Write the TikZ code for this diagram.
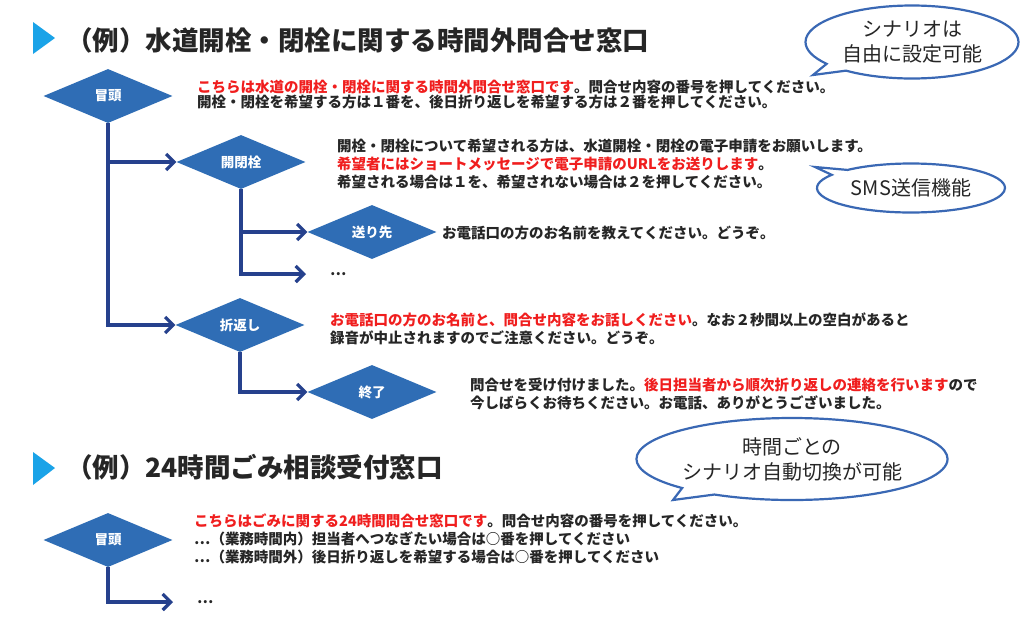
\documentclass[tikz,border=0pt]{standalone}
\usepackage{fontspec}
\setmainfont{Noto Sans CJK JP}
\usetikzlibrary{shapes.geometric,shapes.callouts,arrows.meta}
\definecolor{stepblue}{HTML}{2F6DB5}
\definecolor{flowblue}{HTML}{26418D}
\definecolor{markcyan}{HTML}{1AA3E8}
\definecolor{msgred}{HTML}{F01E1E}
\definecolor{bubbleline}{HTML}{3A68B4}
\definecolor{bodytext}{HTML}{262626}
\newcommand{\hl}[1]{\textcolor{msgred}{#1}}

\begin{document}
\begin{tikzpicture}[x=1pt,y=-1pt,
    stepbox/.style={diamond, fill=stepblue, minimum width=129pt, minimum height=54pt,
      inner sep=0pt, text=white, font=\fontsize{13.5}{14}\selectfont\bfseries},
    flow/.style={draw=flowblue, line width=3.2pt, -{Straight Barb[length=8pt,width=16pt]}},
    msg/.style={anchor=west, align=left, inner sep=0pt, text=bodytext,
      font=\fontsize{14.5}{#1}\selectfont\bfseries},
    msg/.default=17,
    heading/.style={anchor=west, inner sep=0pt, text=bodytext, font=\fontsize{26.5}{30}\selectfont\bfseries},
    bubble/.style={ellipse callout, draw=bubbleline, line width=2.2pt, fill=white,
      inner sep=0pt, align=center, text=bodytext, font=\fontsize{20}{25}\selectfont},
    dotsnode/.style={anchor=west, inner xsep=24pt, inner ysep=0pt, text=bodytext,
      font=\fontsize{14.5}{17}\selectfont\bfseries}]

  \path[use as bounding box, fill=white] (0,0) rectangle (1023,627);

  % first example
  \fill[markcyan] (33,22) -- (55,38) -- (33,54) -- cycle;
  \node[heading] (title1) at (66,40) {（例）水道開栓・閉栓に関する時間外問合せ窓口};

  \node[bubble, minimum width=213pt, minimum height=73pt,
    callout absolute pointer={(813,75)}] (freenote) at (912,42) {シナリオは\\自由に設定可能};

  \node[stepbox] (intro1) at (108,96) {冒頭};
  \node[stepbox] (openclose) at (241,162) {開閉栓};
  \node[stepbox] (sendto) at (372,232) {送り先};
  \node[dotsnode] (more1) at (306,274) {…};
  \node[stepbox] (callback) at (240,325) {折返し};
  \node[stepbox] (finish) at (372,392) {終了};

  \node[msg=15] (introtext1) at (197,95) {\hl{こちらは水道の開栓・閉栓に関する時間外問合せ窓口です}。問合せ内容の番号を押してください。\\
    開栓・閉栓を希望する方は１番を、後日折り返しを希望する方は２番を押してください。};
  \node[msg=18] (opentext) at (337,164) {開栓・閉栓について希望される方は、水道開栓・閉栓の電子申請をお願いします。\\
    \hl{希望者にはショートメッセージで電子申請のURLをお送りします}。\\
    希望される場合は１を、希望されない場合は２を押してください。};
  \node[msg] (sendtext) at (442,233) {お電話口の方のお名前を教えてください。どうぞ。};
  \node[msg=18] (backtext) at (330,329) {\hl{お電話口の方のお名前と、問合せ内容をお話しください}。なお２秒間以上の空白があると\\
    録音が中止されますのでご注意ください。どうぞ。};
  \node[msg=18] (finishtext) at (470,394) {問合せを受け付けました。\hl{後日担当者から順次折り返しの連絡を行います}ので\\
    今しばらくお待ちください。お電話、ありがとうございました。};

  \node[bubble, minimum width=188pt, minimum height=49pt,
    callout absolute pointer={(815,167)}] (smsnote) at (911,188) {SMS送信機能};

  \draw[flow] (intro1.south) |- (openclose.west);
  \draw[flow] (intro1.south) |- (callback.west);
  \draw[flow] (openclose.south) |- (sendto.west);
  \draw[flow] (openclose.south) |- (more1.west);
  \draw[flow] (callback.south) |- (finish.west);

  % second example
  \fill[markcyan] (33,452) -- (55,468) -- (33,485) -- cycle;
  \node[heading] (title2) at (66,467) {（例）24時間ごみ相談受付窓口};

  \node[bubble, minimum width=300pt, minimum height=82pt,
    callout absolute pointer={(673,500)}] (switchnote) at (792,459) {時間ごとの\\シナリオ自動切換が可能};

  \node[stepbox] (intro2) at (108,540) {冒頭};
  \node[dotsnode] (more2) at (173,602) {…};
  \node[msg=18] (introtext2) at (194,539) {\hl{こちらはごみに関する24時間問合せ窓口です}。問合せ内容の番号を押してください。\\
    …（業務時間内）担当者へつなぎたい場合は○番を押してください\\
    …（業務時間外）後日折り返しを希望する場合は○番を押してください};

  \draw[flow] (intro2.south) |- (more2.west);
\end{tikzpicture}
\end{document}
